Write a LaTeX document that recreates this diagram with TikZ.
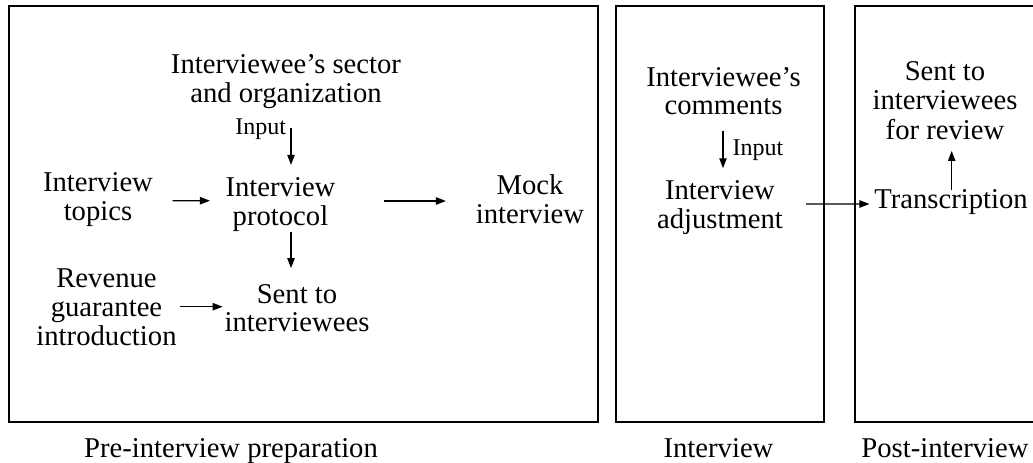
\documentclass[tikz,border=0pt]{standalone}
\usepackage{fontspec}
\setmainfont{Liberation Serif}
\usetikzlibrary{arrows.meta,calc}

\newcommand{\bodyfont}{\fontsize{21.5pt}{21.4pt}\selectfont}
\newcommand{\smallinput}{\fontsize{18pt}{18pt}\selectfont}

\begin{document}
\begin{tikzpicture}[x=0.75pt,y=-0.75pt,
  txt/.style={inner sep=0pt,outer sep=0pt,align=center,font=\bodyfont},
  lbl/.style={inner sep=0pt,outer sep=0pt,font=\smallinput},
  stagebox/.style={draw,line width=1.3pt,inner sep=0pt,outer sep=0pt},
  arr/.style={line width=1pt,-{Triangle[length=7.5pt,width=5.5pt]}}]
\useasboundingbox (0,0) rectangle (1033,463);

% stage frames
\draw[stagebox] (9,6) rectangle (598,422);
\draw[stagebox] (615.7,6) rectangle (824,422);
\draw[stagebox] (855,6) rectangle (1036,422);

% pre-interview preparation
\node[txt] (sector)   at (286,82.2)   {\strut Interviewee’s sector\\\strut and organization};
\node[lbl,anchor=east] (in1) at (286,130.2) {\strut Input};
\node[txt] (topics)   at (98,200.3)   {\strut Interview\\\strut topics};
\node[txt] (protocol) at (280.5,205.15) {\strut Interview\\\strut protocol};
\node[txt] (mock)     at (530,203.45) {\strut Mock\\\strut interview};
\node[txt] (revenue)  at (106.5,310.8) {\strut Revenue\\\strut guarantee\\\strut introduction};
\node[txt] (sent)     at (297,311.65) {\strut Sent to\\\strut interviewees};

% interview
\node[txt] (comments) at (723.5,94.8) {\strut Interviewee’s\\\strut comments};
\node[lbl,anchor=west] (in2) at (732.7,150.9) {\strut Input};
\node[txt] (adjust)   at (720,208.3)  {\strut Interview\\\strut adjustment};

% post-interview
\node[txt] (review)   at (945,104.3)  {\strut Sent to\\\strut interviewees\\\strut for review};
\node[txt] (transc)   at (951,202.3)  {\strut Transcription};

% stage captions
\node[txt] (cap1) at (231,451.5)   {\strut Pre-interview preparation};
\node[txt] (cap2) at (718.5,451.3) {\strut Interview};
\node[txt] (cap3) at (945,451.3)   {\strut Post-interview};

% connectors
\draw[arr] ($(sector.south)+(5,17.7)$) -- ($(protocol.north)+(10.5,-11.7)$);
\draw[arr] ($(topics.east)+(19.8,0.4)$) -- ($(protocol.west)+(-15.6,-4.45)$);
\draw[arr] ($(protocol.east)+(48.6,-4.15)$) -- ($(mock.west)+(-29.9,-2.45)$);
\draw[arr] ($(protocol.south)+(10.5,-1.9)$) -- ($(sent.north)+(-6,-15)$);
\draw[arr] ($(revenue.east)+(3.4,-4.1)$) -- ($(sent.west)+(-1.9,-4.95)$);
\draw[arr] ($(comments.south)+(-0.5,7.4)$) -- ($(adjust.north)+(3,-11.5)$);
\draw[arr] ($(adjust.east)+(23.1,-4.3)$) -- ($(transc.west)+(-4.8,1.7)$);
\draw[arr] ($(transc.north)+(0.7,2)$) -- ($(review.south)+(6.7,3.1)$);
\end{tikzpicture}
\end{document}
